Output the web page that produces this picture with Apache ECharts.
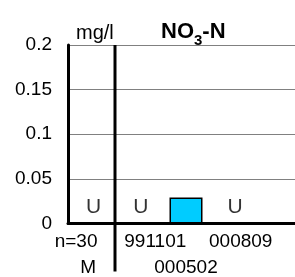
<!DOCTYPE html>
<html>
<head>
<meta charset="utf-8">
<script src="https://cdn.jsdelivr.net/npm/echarts@6/dist/echarts.min.js"></script>
<style>
  html, body { margin: 0; padding: 0; background: #fff; overflow: hidden; }
  #wrap { width: 295px; height: 277px; overflow: hidden; }
  /* the plot runs a little past the right edge, as in the original */
  #chart { width: 304px; height: 277px; }
</style>
</head>
<body>
<div id="wrap"><div id="chart"></div></div>
<script>
// categories (top / bottom label rows)
const labelTop = ['n=30', '991101', '', '000809', '']
const labelBottom = ['M', '', '000502', '', '']
// measured values, mg/l
const values = [null, null, 0.029, null, null]
// below detection limit markers
const belowLimit = [0, 1, 3]

const yTicks = [0, 0.05, 0.1, 0.15, 0.2]

const font = 'Liberation Sans, Arial, sans-serif'
// small horizontal nudges so the labels sit as in the original
const shiftTop = [-31, 33, 0, 15, 0]
const shiftBottom = [-7, 0, 0, 0, 0]

let chart = echarts.init(document.getElementById('chart'))

const pad = (s) => s < 0 ? [0, -s, 0, 0] : [0, 0, 0, s]
const rich = {}
labelTop.forEach((t, i) => {
  rich['t' + i] = { fontFamily: font, fontSize: 19, color: '#000', lineHeight: 26, padding: pad(shiftTop[i]) }
  rich['b' + i] = { fontFamily: font, fontSize: 19, color: '#000', lineHeight: 26, padding: pad(shiftBottom[i]) }
})

chart.setOption({
  animation: false,
  title: [
    {
      text: 'mg/l',
      left: 71, top: 18,
      textStyle: { fontFamily: font, fontSize: 20, fontWeight: 'normal', color: '#000' }
    },
    {
      text: '{n|NO}{s|3}{n|-N}',
      left: 156, top: 15,
      textStyle: {
        rich: {
          n: { fontFamily: font, fontSize: 22, fontWeight: 'bold', color: '#000', lineHeight: 23, verticalAlign: 'bottom' },
          s: { fontFamily: font, fontSize: 15, fontWeight: 'bold', color: '#000', lineHeight: 23, verticalAlign: 'bottom', padding: [0, 0, -5, 0] }
        }
      }
    }
  ],
  grid: { left: 68, top: 45, right: 0, bottom: 52, containLabel: false },
  xAxis: {
    type: 'category',
    data: labelTop.map((t, i) => i),
    boundaryGap: true,
    axisLine: { lineStyle: { color: '#000', width: 3 } },
    axisTick: { show: false },
    axisLabel: {
      interval: 0, margin: 5,
      formatter: (v, i) => {
        let top = '{t' + i + '|' + (labelTop[i] || ' ') + '}'
        let bot = '{b' + i + '|' + (labelBottom[i] || ' ') + '}'
        return top + '\n' + bot
      },
      rich: rich
    }
  },
  yAxis: {
    type: 'value',
    min: 0, max: 0.2, interval: 0.05,
    axisLine: { show: true, lineStyle: { color: '#000', width: 3 } },
    axisTick: { show: false },
    splitLine: { lineStyle: { color: '#808080', width: 1 } },
    axisLabel: {
      margin: 16,
      fontFamily: font, fontSize: 19, color: '#000',
      formatter: (v) => yTicks.includes(v) ? String(v) : ''
    }
  },
  series: [
    {
      type: 'bar',
      data: values,
      barWidth: 33,
      itemStyle: { color: '#00CCFF', borderColor: '#000', borderWidth: 1.5 }
    },
    {
      type: 'scatter',
      data: belowLimit.map(i => [i, 0]),
      symbolSize: 0,
      silent: true,
      label: {
        show: true, formatter: 'U', position: 'inside', offset: [2, -16],
        fontFamily: font, fontSize: 21, color: '#000'
      }
    }
  ]
})

// separator between the summary column and the sample columns
const x0 = chart.convertToPixel({ xAxisIndex: 0 }, 0)
const x1 = chart.convertToPixel({ xAxisIndex: 0 }, 1)
const yTop = chart.convertToPixel({ yAxisIndex: 0 }, 0.2)
const yBottom = chart.convertToPixel({ yAxisIndex: 0 }, 0)
const sepX = Math.round((x0 + x1) / 2)
chart.setOption({
  graphic: [{
    type: 'line',
    shape: { x1: sepX, y1: yTop, x2: sepX, y2: yBottom + 48 },
    style: { stroke: '#000', lineWidth: 3 },
    silent: true
  }]
})
</script>
</body>
</html>
